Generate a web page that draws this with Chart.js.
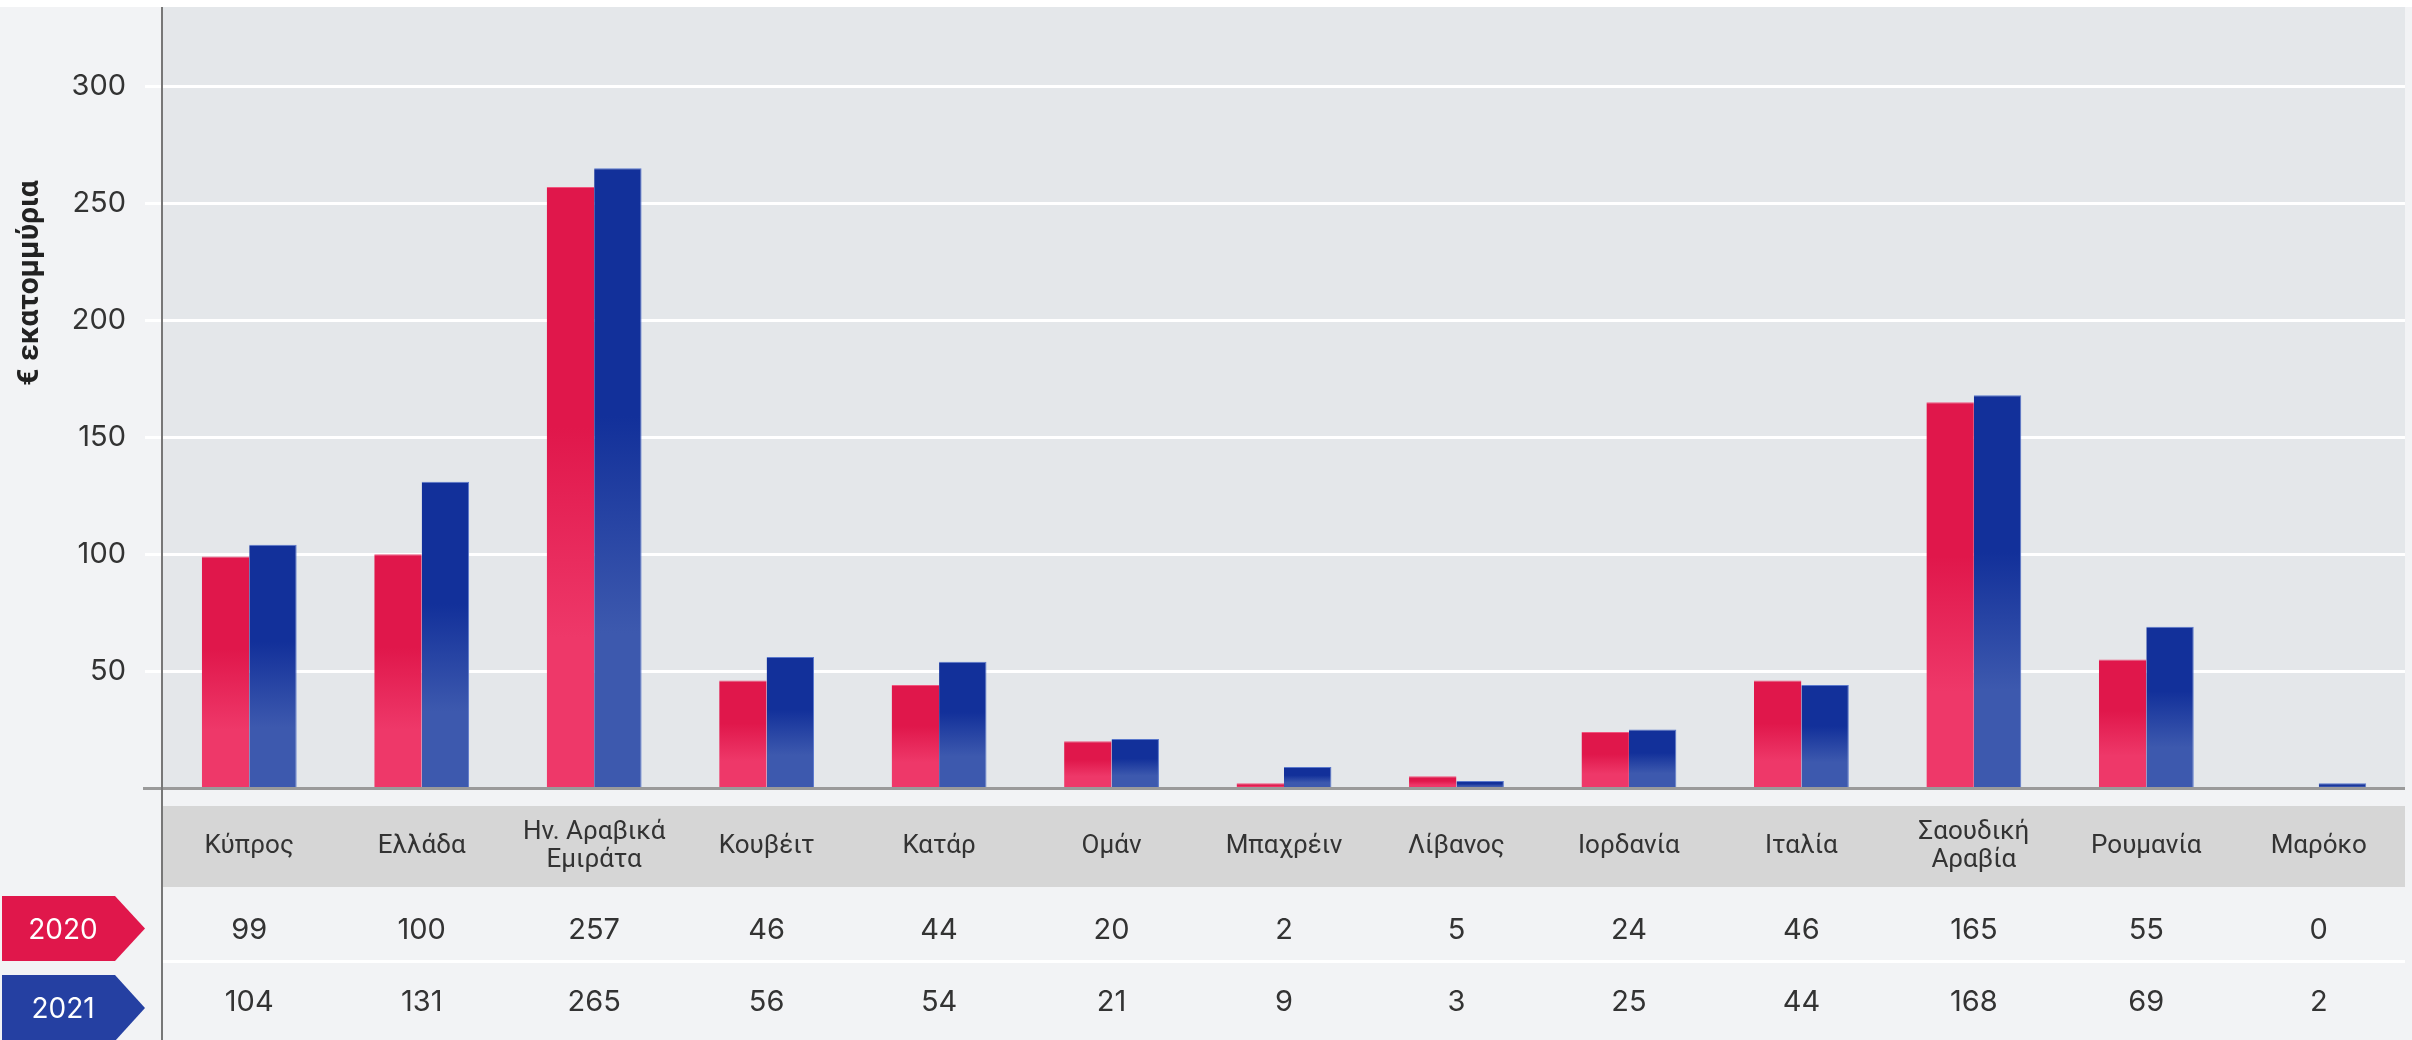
<!DOCTYPE html>
<html>
<head>
<meta charset="utf-8">
<script src="https://cdn.jsdelivr.net/npm/chart.js@4.4.1/dist/chart.umd.min.js"></script>
<style>
  html, body { margin: 0; padding: 0; background: #ffffff; }
  #wrap { width: 2412px; height: 1040px; }
</style>
</head>
<body>
<div id="wrap"><canvas id="chart" width="2412" height="1040"></canvas></div>
<script>
// data
const countries = [
  ['Κύπρος'], ['Ελλάδα'], ['Ην. Αραβικά', 'Εμιράτα'], ['Κουβέιτ'], ['Κατάρ'], ['Ομάν'],
  ['Μπαχρέιν'], ['Λίβανος'], ['Ιορδανία'], ['Ιταλία'], ['Σαουδική', 'Αραβία'], ['Ρουμανία'], ['Μαρόκο']
];
const years = ['2020', '2021'];
const values2020 = [99, 100, 257, 46, 44, 20, 2, 5, 24, 46, 165, 55, 0];
const values2021 = [104, 131, 265, 56, 54, 21, 9, 3, 25, 44, 168, 69, 2];
const yTicks = [50, 100, 150, 200, 250, 300];
const yTitle = '€ εκατομμύρια';

const RED_TOP = '#e0174b', RED_BOTTOM = '#ee3869';
const BLUE_TOP = '#12309a', BLUE_BOTTOM = '#3d59ae';
const TAG_RED = '#e0174b', TAG_BLUE = '#2540a2';

function barFill(top, bottom) {
  return (ctx) => {
    if (ctx.type !== 'data') return top;
    const chart = ctx.chart;
    if (!chart.chartArea) return top;
    const y = chart.scales.y;
    const y0 = y.getPixelForValue(ctx.raw);
    const y1 = y.getPixelForValue(0);
    if (y1 - y0 < 2) return top;
    const g = chart.ctx.createLinearGradient(0, y0, 0, y1);
    g.addColorStop(0, top);
    g.addColorStop(0.4, top);
    g.addColorStop(0.75, bottom);
    g.addColorStop(1, bottom);
    return g;
  };
}

// backgrounds, axes, table and row tags
const decor = {
  id: 'decor',
  beforeDraw(chart) {
    const c = chart.ctx, a = chart.chartArea;
    c.save();
    c.fillStyle = '#f2f3f5';
    c.fillRect(0, 0, chart.width, chart.height);
    c.fillStyle = '#ffffff';
    c.fillRect(0, 0, chart.width, 7);
    c.fillStyle = '#e4e7ea';
    c.fillRect(a.left, a.top, a.right - a.left, a.bottom - a.top);
    c.restore();
  },
  afterDraw(chart) {
    const c = chart.ctx, a = chart.chartArea, x = chart.scales.x;
    c.save();
    // x axis line
    c.fillStyle = '#9a9a9a';
    c.fillRect(143, a.bottom - 1, a.right - 143, 3);
    // header band
    c.fillStyle = '#d6d6d6';
    c.fillRect(a.left, 806, a.right - a.left, 81);
    // row separator
    c.fillStyle = '#ffffff';
    c.fillRect(a.left, 960, a.right - a.left, 3);
    // y axis line
    c.fillStyle = '#777777';
    c.fillRect(a.left - 2, a.top, 2, chart.height - a.top);

    c.fillStyle = '#333333';
    c.textAlign = 'center';
    c.textBaseline = 'middle';
    c.font = '26px Roboto';
    countries.forEach((lines, i) => {
      const cx = x.getPixelForValue(i);
      const lh = 28;
      const y0 = 846 - (lines.length - 1) * lh / 2;
      lines.forEach((t, j) => c.fillText(t, cx, y0 + j * lh));
    });
    c.font = '29px Inter';
    [values2020, values2021].forEach((vals, r) => {
      const cy = r === 0 ? 930 : 1002;
      vals.forEach((v, i) => c.fillText(String(v), x.getPixelForValue(i), cy));
    });

    // row tags
    const tag = (y0, h, color, text) => {
      c.fillStyle = color;
      c.beginPath();
      c.moveTo(2, y0);
      c.lineTo(115, y0);
      c.lineTo(145, y0 + h / 2);
      c.lineTo(115, y0 + h);
      c.lineTo(2, y0 + h);
      c.closePath();
      c.fill();
      c.fillStyle = '#ffffff';
      c.font = '28px Inter';
      c.fillText(text, 63, y0 + h / 2 + 2);
    };
    tag(896, 65, TAG_RED, years[0]);
    tag(975, 66, TAG_BLUE, years[1]);

    // y title
    c.translate(30, 283);
    c.rotate(-Math.PI / 2);
    c.fillStyle = '#222222';
    c.font = 'bold 30px Roboto';
    c.fillText(yTitle, 0, 0);
    c.restore();
  }
};

new Chart(document.getElementById('chart'), {
  type: 'bar',
  data: {
    labels: countries,
    datasets: [
      {
        label: years[0],
        data: values2020,
        backgroundColor: barFill(RED_TOP, RED_BOTTOM),
        borderColor: '#f0557e',
        borderWidth: { top: 1, left: 0, right: 0, bottom: 0 },
        categoryPercentage: 0.55,
        barPercentage: 1.0,
      },
      {
        label: years[1],
        data: values2021,
        backgroundColor: barFill(BLUE_TOP, BLUE_BOTTOM),
        borderColor: '#5a78cc',
        borderWidth: { top: 1, left: 0, right: 1, bottom: 0 },
        categoryPercentage: 0.55,
        barPercentage: 1.0,
      },
    ],
  },
  plugins: [decor],
  options: {
    responsive: false,
    animation: false,
    devicePixelRatio: 1,
    layout: { padding: { top: 7, right: 7, bottom: 252, left: 0 } },
    plugins: {
      legend: { display: false },
      tooltip: { enabled: false },
    },
    scales: {
      x: { display: false },
      y: {
        min: 0,
        max: 334,
        afterBuildTicks: (axis) => { axis.ticks = yTicks.map(v => ({ value: v })); },
        afterFit: (axis) => { axis.width = 163; axis.paddingTop = 0; axis.paddingBottom = 0; },
        border: { display: false },
        grid: { color: '#ffffff', lineWidth: 3, tickLength: 18, drawTicks: true },
        ticks: {
          color: '#333333',
          font: { family: 'Inter', size: 29 },
          padding: 19,
        },
      },
    },
  },
});
</script>
</body>
</html>
